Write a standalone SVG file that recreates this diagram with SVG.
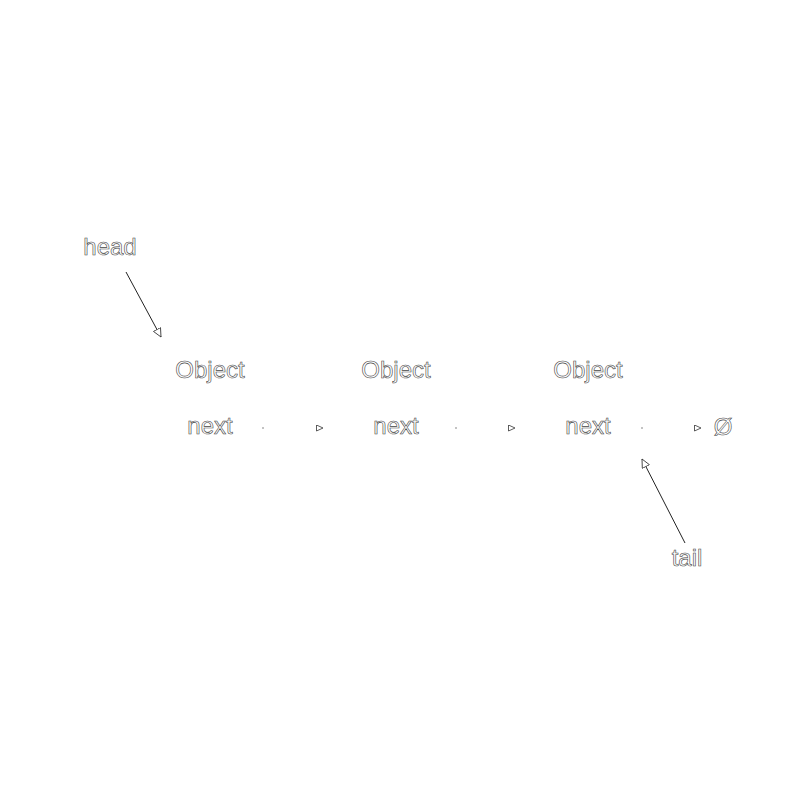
<svg xmlns="http://www.w3.org/2000/svg" width="800" height="800" viewBox="0 0 800 800">
<defs>
<style>
.t{font-family:"Liberation Sans",Arial,sans-serif;font-size:24px;fill:#fff;stroke:#444;stroke-width:0.6;text-anchor:middle}
.link{stroke:#fff;stroke-width:1;fill:none}
.ptr{stroke:#222;stroke-width:1;fill:none}
.dot{fill:#777}
</style>
<marker id="ah" markerUnits="userSpaceOnUse" markerWidth="10" markerHeight="10" refX="7" refY="3.5" orient="auto">
<path d="M0.5,0.5 L7,3.5 L0.5,6.5 z" fill="#fff" stroke="#333" stroke-width="0.8"/>
</marker>
<marker id="ah2" markerUnits="userSpaceOnUse" markerWidth="12" markerHeight="12" refX="9" refY="4.5" orient="auto">
<path d="M0.5,0.5 L9,4.5 L0.5,8.5 z" fill="#fff" stroke="#333" stroke-width="0.8"/>
</marker>
</defs>
<rect width="800" height="800" fill="#fff"/>
<g id="head"><text class="t" x="110" y="255">head</text></g>
<g id="tail"><text class="t" x="687" y="566">tail</text></g>
<g id="node1"><text class="t" x="210" y="378">Object</text><text class="t" x="210" y="434">next</text></g>
<g id="node2"><text class="t" x="396" y="378">Object</text><text class="t" x="396" y="434">next</text></g>
<g id="node3"><text class="t" x="588" y="378">Object</text><text class="t" x="588" y="434">next</text></g>
<g id="null"><text class="t" x="723" y="435">Ø</text></g>
<g id="connectors">
<line class="link" x1="263" y1="428" x2="323" y2="428" marker-end="url(#ah)"/>
<circle class="dot" cx="263" cy="428" r="0.8"/>
<line class="link" x1="456" y1="428" x2="515" y2="428" marker-end="url(#ah)"/>
<circle class="dot" cx="456" cy="428" r="0.8"/>
<line class="link" x1="642" y1="428" x2="701" y2="428" marker-end="url(#ah)"/>
<circle class="dot" cx="642" cy="428" r="0.8"/>
<line class="ptr" x1="126" y1="272" x2="161" y2="337" marker-end="url(#ah2)"/>
<line class="ptr" x1="685" y1="543" x2="642" y2="459" marker-end="url(#ah2)"/>
</g>
</svg>
